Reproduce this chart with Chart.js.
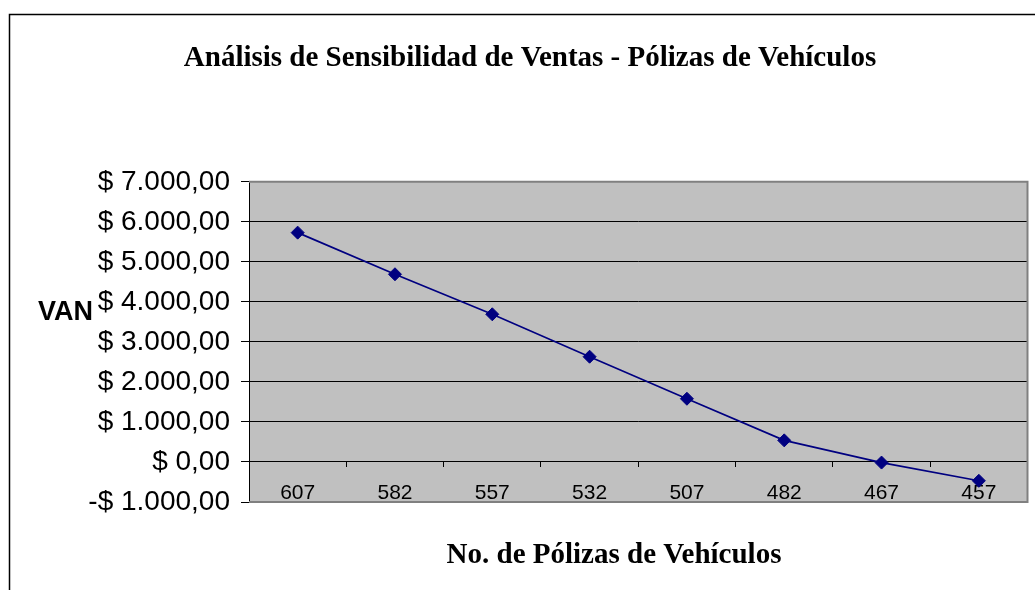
<!DOCTYPE html>
<html lang="es">
<head>
<meta charset="utf-8">
<title>Análisis de Sensibilidad de Ventas</title>
<script src="https://cdn.jsdelivr.net/npm/chart.js@4.4.1/dist/chart.umd.min.js"></script>
<style>
    html, body { margin: 0; padding: 0; background: #ffffff; overflow: hidden; }
    canvas { display: block; }
</style>
</head>
<body>
<canvas id="vanChart" width="1035" height="590"></canvas>
<script>
// Chart data
const polizas = ["607", "582", "557", "532", "507", "482", "467", "457"];
const van = [5730, 4690, 3690, 2630, 1580, 540, -15, -470];
const yTicks = [-1000, 0, 1000, 2000, 3000, 4000, 5000, 6000, 7000];

const chartTitle = "Análisis de Sensibilidad de Ventas - Pólizas de Vehículos";
const xTitle = "No. de Pólizas de Vehículos";
const yTitle = "VAN";

// "$ 7.000,00" style labels
function formatMoney(value) {
    const abs = Math.abs(value);
    const intPart = Math.floor(abs).toString().replace(/\B(?=(\d{3})+(?!\d))/g, ".");
    const label = "$ " + intPart + ",00";
    return value < 0 ? "-" + label : label;
}

// Outer frame, grey plot background and the axis titles
const excelLook = {
    id: "excelLook",
    beforeDraw(chart) {
        const ctx = chart.ctx;
        const area = chart.chartArea;
        ctx.save();
        ctx.fillStyle = "#ffffff";
        ctx.fillRect(0, 0, chart.width, chart.height);
        ctx.strokeStyle = "#000000";
        ctx.lineWidth = 1.5;
        ctx.strokeRect(9.5, 14.5, 1200, 1000);
        ctx.fillStyle = "#c0c0c0";
        ctx.fillRect(area.left, area.top, area.right - area.left, area.bottom - area.top);
        ctx.restore();
    },
    beforeDatasetsDraw(chart) {
        const ctx = chart.ctx;
        const area = chart.chartArea;
        ctx.save();
        ctx.strokeStyle = "#808080";
        ctx.lineWidth = 2;
        ctx.beginPath();
        ctx.moveTo(area.left, area.top);
        ctx.lineTo(area.right, area.top);
        ctx.lineTo(area.right, area.bottom);
        ctx.lineTo(area.left, area.bottom);
        ctx.stroke();
        ctx.restore();
    },
    afterDraw(chart) {
        const ctx = chart.ctx;
        ctx.save();
        ctx.fillStyle = "#000000";
        ctx.textBaseline = "alphabetic";
        ctx.font = "bold 27px 'Liberation Sans', Arial, sans-serif";
        ctx.textAlign = "left";
        ctx.fillText(yTitle, 38, 320);
        ctx.font = "bold 29px 'Liberation Serif', 'Times New Roman', serif";
        ctx.textAlign = "center";
        ctx.fillText(xTitle, 614, 563);
        ctx.restore();
    }
};

document.addEventListener("DOMContentLoaded", () => {
    const ctx = document.getElementById("vanChart").getContext("2d");

    new Chart(ctx, {
        type: "line",
        data: {
            labels: polizas,
            datasets: [{
                label: "VAN",
                data: van,
                borderColor: "#000080",
                backgroundColor: "#000080",
                borderWidth: 1.7,
                pointStyle: "rectRot",
                pointRadius: 6.5,
                pointBorderWidth: 1,
                pointBackgroundColor: "#000080",
                pointBorderColor: "#000080",
                tension: 0,
                fill: false
            }]
        },
        options: {
            responsive: false,
            devicePixelRatio: 1,
            animation: false,
            layout: {
                padding: { top: 0, left: 28, right: 3, bottom: 88 }
            },
            plugins: {
                legend: { display: false },
                tooltip: { enabled: false },
                title: {
                    display: true,
                    text: chartTitle,
                    color: "#000000",
                    font: { family: "'Liberation Serif', 'Times New Roman', serif", size: 29, weight: "bold" },
                    padding: { top: 41, bottom: 106 }
                }
            },
            scales: {
                x: {
                    type: "category",
                    offset: true,
                    position: { y: 0 },
                    grid: {
                        offset: true,
                        drawOnChartArea: false,
                        drawTicks: true,
                        tickLength: 5,
                        color: "#000000"
                    },
                    border: { display: true, color: "#000000", width: 1 },
                    ticks: {
                        color: "#000000",
                        padding: 14,
                        maxRotation: 0,
                        autoSkip: false,
                        font: { family: "'Liberation Sans', Arial, sans-serif", size: 21 }
                    }
                },
                y: {
                    min: -1000,
                    max: 7000,
                    afterBuildTicks(scale) {
                        scale.ticks = yTicks.map(v => ({ value: v }));
                    },
                    afterFit(scale) {
                        scale.width = 221;
                    },
                    grid: {
                        color: "#000000",
                        lineWidth: 1,
                        tickLength: 8
                    },
                    border: { display: true, color: "#000000", width: 1 },
                    ticks: {
                        color: "#000000",
                        padding: 11,
                        callback: value => formatMoney(value),
                        font: { family: "'Liberation Sans', Arial, sans-serif", size: 28 }
                    }
                }
            }
        },
        plugins: [excelLook]
    });
});
</script>
</body>
</html>
